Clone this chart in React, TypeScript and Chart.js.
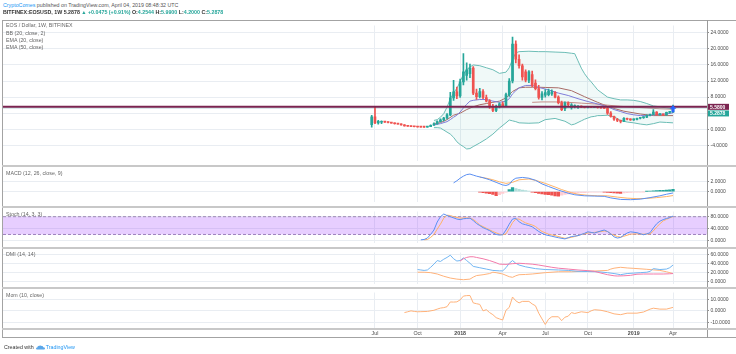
import React, { useEffect, useRef } from 'react';
import { Chart, registerables } from 'chart.js';

Chart.register(...registerables);

const FONT = "'Liberation Sans', Arial, sans-serif";
const GRID = '#e9edf2';
const AXIS_TEXT = '#4a4a4a';
const UP = '#26a69a';
const DOWN = '#ef5350';
const UP_LIGHT = '#b2dfdb';
const DOWN_LIGHT = '#ffcdd2';

const X_MIN = -112.58;
const X_MAX = 102.38;

// ---- time axis ----
const tickWeeks = [1, 14, 27, 40, 53, 66, 80, 92];
const tickLabels = ['Jul', 'Oct', '2018', 'Apr', 'Jul', 'Oct', '2019', 'Apr'];

// ---- weekly candles (week 0 = Jun 26 2017) ----
const candleOpen = [1.15, 3.1, 1.6, 1.75, 1.9, 1.78, 1.68, 1.55, 1.38, 1.3, 1.1, 0.85, 0.75, 0.66, 0.62, 0.57, 0.54, 0.52, 0.68, 1.0, 1.35, 1.9, 2.35, 2.8, 3.6, 7.8, 9.3, 8.3, 11.8, 13.4, 13.8, 15.2, 9.0, 8.1, 9.4, 7.9, 7.0, 5.6, 4.7, 5.6, 6.3, 5.9, 8.6, 12.0, 21.2, 17.4, 15.8, 14.3, 12.2, 13.6, 11.5, 10.1, 7.9, 8.5, 8.6, 8.8, 9.2, 8.0, 6.6, 5.1, 6.5, 5.4, 5.6, 5.5, 5.7, 5.5, 5.45, 5.55, 5.45, 5.5, 5.35, 5.3, 5.2, 4.0, 3.2, 2.5, 2.2, 1.95, 2.7, 2.5, 2.35, 2.45, 2.75, 2.9, 3.0, 3.5, 3.7, 4.3, 3.65, 3.7, 3.6, 4.2, 4.2544];
const candleHigh = [3.5, 5.7, 2.2, 2.1, 2.0, 1.85, 1.75, 1.6, 1.45, 1.35, 1.15, 0.9, 0.8, 0.7, 0.66, 0.6, 0.6, 0.72, 1.1, 1.6, 2.1, 2.6, 3.0, 3.9, 9.2, 12.2, 10.5, 12.5, 18.8, 16.5, 16.2, 15.6, 10.0, 10.2, 9.9, 8.5, 7.4, 6.2, 6.0, 6.6, 6.8, 9.0, 12.6, 22.9, 22.0, 18.5, 16.2, 14.8, 14.6, 14.5, 12.3, 10.9, 9.4, 9.9, 10.0, 9.8, 9.4, 8.3, 7.0, 6.8, 6.8, 6.4, 6.1, 5.9, 5.8, 5.6, 5.6, 5.65, 5.6, 5.6, 5.45, 5.4, 5.45, 4.4, 3.3, 2.7, 2.3, 2.9, 2.8, 2.6, 2.6, 2.8, 3.0, 3.1, 3.6, 3.8, 4.9, 4.4, 3.9, 3.8, 4.3, 4.3, 5.99];
const candleLow = [0.5, 1.4, 1.3, 1.4, 1.7, 1.6, 1.5, 1.3, 1.25, 1.05, 0.8, 0.7, 0.62, 0.58, 0.52, 0.5, 0.48, 0.5, 0.65, 0.95, 1.3, 1.8, 2.1, 2.6, 3.4, 7.2, 7.6, 7.9, 11.0, 12.2, 12.8, 8.6, 7.4, 7.8, 7.6, 6.8, 5.2, 4.4, 4.4, 5.3, 5.6, 5.6, 8.2, 11.5, 16.5, 15.2, 12.2, 11.8, 11.6, 10.6, 9.8, 7.5, 7.3, 8.0, 8.3, 8.4, 7.8, 6.3, 4.6, 4.6, 5.8, 5.0, 5.3, 5.2, 5.4, 5.3, 5.3, 5.4, 5.35, 5.25, 5.2, 5.1, 3.7, 3.0, 2.2, 1.9, 1.6, 1.9, 2.3, 2.2, 2.2, 2.35, 2.6, 2.7, 2.9, 3.3, 3.6, 3.5, 3.5, 3.4, 3.5, 4.0, 4.2];
const candleClose = [3.1, 1.6, 1.95, 1.9, 1.78, 1.68, 1.55, 1.38, 1.3, 1.1, 0.85, 0.75, 0.66, 0.62, 0.57, 0.54, 0.52, 0.68, 1.0, 1.35, 1.9, 2.35, 2.8, 3.6, 7.8, 9.3, 8.3, 11.8, 14.3, 14.8, 15.2, 9.0, 8.1, 9.4, 7.9, 7.0, 5.6, 4.7, 5.6, 6.3, 5.9, 8.6, 12.0, 21.2, 17.4, 15.8, 13.0, 12.2, 14.3, 10.9, 10.1, 7.9, 8.8, 9.1, 9.5, 9.3, 8.0, 6.6, 4.9, 6.5, 6.1, 6.1, 5.9, 5.7, 5.5, 5.45, 5.55, 5.45, 5.5, 5.35, 5.28, 5.2, 4.0, 3.2, 2.5, 2.2, 1.95, 2.7, 2.5, 2.35, 2.45, 2.75, 2.9, 3.0, 3.5, 3.7, 4.3, 3.65, 3.7, 3.6, 4.2, 4.25, 5.2878];

// ---- Bollinger Bands (20, 2) ----
const bbWeeks = [19, 20, 21, 22, 23, 24, 25, 26, 27, 28, 29, 30, 31, 33, 35, 37, 39, 41, 42, 43, 44, 45, 48, 51, 53, 56, 59, 61, 62, 63, 64, 65, 66, 67, 68, 69, 70, 72, 74, 76, 78, 80, 82, 84, 86, 88, 90, 92];
const bbUpper = [2.2, 2.4, 3.0, 3.9, 5.5, 7.6, 9.0, 10.2, 11.8, 13.7, 14.8, 15.5, 16.0, 15.8, 15.3, 14.8, 13.9, 14.2, 15.3, 17.4, 19.0, 19.3, 19.4, 19.3, 19.3, 19.2, 19.1, 18.9, 18.8, 17.0, 15.2, 13.8, 12.7, 11.8, 10.8, 9.8, 9.2, 8.0, 7.6, 7.3, 7.3, 7.2, 6.9, 6.4, 5.8, 5.6, 5.3, 5.0];
const bbLower = [0.4, 0.4, 0.3, -0.2, -0.7, -1.2, -2.0, -3.1, -3.8, -4.3, -4.9, -4.8, -4.3, -3.4, -2.4, -1.2, 0.3, 1.6, 2.3, 2.1, 1.9, 1.6, 1.5, 1.6, 2.4, 2.7, 2.0, 1.1, 1.3, 1.7, 2.1, 2.5, 2.8, 3.1, 3.2, 3.4, 3.4, 3.5, 3.1, 2.2, 1.8, 1.6, 1.3, 1.1, 1.4, 1.8, 1.7, 1.6];
const basisWeeks = [19, 21, 23, 25, 27, 29, 31, 33, 35, 37, 39, 41, 43, 45, 47, 49, 51, 53, 57, 61, 65, 69, 73, 77, 82, 86, 92];
const basisVals = [1.3, 1.65, 2.4, 3.5, 4.0, 4.9, 5.6, 6.1, 6.4, 6.7, 7.0, 7.8, 9.4, 10.3, 10.45, 10.45, 10.45, 10.4, 10.3, 9.6, 8.1, 6.7, 5.4, 4.5, 3.8, 3.4, 3.4];

// ---- EMAs ----
const ema20Weeks = [19, 21, 23, 24, 25, 26, 27, 28, 29, 30, 31, 33, 35, 37, 39, 41, 42, 43, 44, 45, 47, 49, 51, 54, 57, 60, 63, 66, 69, 72, 74, 76, 78, 80, 82, 84, 86, 88, 90, 92];
const ema20Vals = [1.1, 1.4, 1.9, 2.4, 3.0, 3.5, 4.3, 5.3, 6.2, 7.0, 7.2, 7.4, 7.4, 7.0, 6.7, 7.0, 7.6, 8.8, 9.6, 10.3, 10.9, 10.9, 10.4, 9.8, 9.0, 8.4, 7.6, 6.9, 6.3, 5.6, 4.9, 4.4, 3.9, 3.6, 3.4, 3.4, 3.6, 3.7, 3.8, 4.1];
const ema50Weeks = [49, 52, 56, 60, 64, 68, 72, 76, 80, 84, 88, 92];
const ema50Vals = [6.7, 6.8, 6.8, 6.7, 6.5, 6.3, 6.0, 5.7, 5.5, 5.3, 5.1, 5.0];

// ---- price markers ----
const hLevel = 5.58;
const lastWeek = 92;
const lastClose = 5.2878;
const arrowValue = 6.0;

// ---- MACD (12, 26, 9) ----
const macdWeeks = [25, 26, 27, 28, 29, 30, 31, 32, 34, 36, 38, 40, 41, 42, 43, 44, 46, 48, 50, 52, 54, 57, 60, 62, 65, 68, 71, 73, 76, 79, 82, 85, 88, 90, 92];
const macdVals = [1.7, 2.1, 2.6, 3.0, 3.3, 3.4, 3.2, 3.0, 2.7, 2.3, 1.8, 1.3, 1.2, 1.4, 2.2, 2.6, 2.75, 2.6, 2.2, 1.5, 1.0, 0.3, -0.3, -0.6, -0.8, -0.85, -0.9, -1.2, -1.5, -1.55, -1.45, -1.15, -0.8, -0.5, -0.25];
const signalWeeks = [33, 35, 37, 39, 41, 43, 45, 48, 50, 53, 56, 58, 61, 63, 66, 69, 72, 75, 78, 81, 84, 87, 90, 92];
const signalVals = [2.8, 2.6, 2.3, 1.9, 1.6, 1.8, 2.3, 2.45, 2.2, 1.6, 0.9, 0.4, -0.2, -0.5, -0.7, -0.8, -0.8, -1.05, -1.25, -1.35, -1.3, -1.15, -0.95, -0.75];
const histFirstWeek = 33;
const histVals = [-0.1, -0.2, -0.3, -0.4, -0.55, -0.75, -0.6, -0.35, -0.1, 0.4, 0.8, 0.6, 0.45, 0.3, 0.2, 0.1, -0.1, -0.2, -0.35, -0.45, -0.55, -0.6, -0.7, -0.8, -0.85, -0.7, -0.55, -0.45, -0.35, -0.3, -0.25, -0.2, -0.18, -0.15, -0.12, -0.1, -0.08, -0.07, -0.1, -0.15, -0.2, -0.25, -0.3, -0.32, -0.25, -0.2, -0.15, -0.12, -0.1, -0.08, -0.04, 0.05, 0.1, 0.15, 0.2, 0.25, 0.27, 0.3, 0.35, 0.45];

// ---- Stochastic (14, 3, 3) ----
const kWeeks = [15, 16, 17, 18, 19, 20, 21, 22, 23, 24, 26, 27, 28, 29, 30, 31, 32, 33, 34, 35, 36, 37, 38, 39, 40, 41, 42, 43, 44, 45, 46, 47, 48, 49, 50, 51, 52, 53, 55, 57, 59, 60, 61, 63, 65, 66, 67, 68, 70, 71, 72, 73, 74, 75, 76, 77, 78, 79, 81, 83, 84, 85, 86, 87, 88, 89, 90, 91, 92];
const kVals = [2, 3, 8, 20, 35, 62, 80, 89, 84, 80, 72, 70, 73, 74, 75, 67, 57, 50, 43, 38, 33, 26, 20, 18, 19, 35, 55, 72, 74, 63, 56, 53, 50, 46, 38, 30, 24, 19, 14, 9, 5, 9, 13, 16, 24, 29, 27, 25, 32, 35, 30, 22, 12, 8, 10, 18, 25, 29, 26, 19, 22, 26, 42, 56, 65, 70, 74, 77, 82];
const dWeeks = [16, 17, 18, 19, 20, 21, 22, 23, 24, 25, 27, 29, 30, 31, 32, 33, 35, 37, 39, 40, 41, 42, 43, 44, 45, 46, 47, 49, 50, 51, 52, 54, 56, 58, 59, 60, 62, 64, 66, 68, 70, 71, 72, 73, 75, 76, 77, 79, 81, 83, 85, 86, 87, 88, 89, 90, 91, 92];
const dVals = [2, 3, 10, 20, 38, 55, 75, 85, 84, 80, 75, 76, 75, 71, 62, 52, 41, 30, 21, 19, 22, 40, 60, 72, 72, 65, 59, 52, 47, 38, 30, 21, 16, 10, 7, 8, 13, 20, 25, 27, 30, 32, 30, 22, 13, 11, 14, 21, 22, 21, 22, 32, 45, 56, 66, 71, 76, 80];
const stochUpper = 80;
const stochLower = 20;

// ---- DMI (14, 14) ----
const plusWeeks = [14, 15, 16, 17, 18, 19, 20, 21, 22, 23, 24, 25, 26, 27, 28, 29, 30, 31, 33, 35, 37, 39, 40, 41, 42, 43, 44, 45, 47, 50, 53, 57, 60, 63, 66, 69, 72, 74, 76, 78, 80, 82, 84, 85, 86, 88, 90, 91, 92];
const plusVals = [26, 25, 24, 25, 31, 38, 46, 44, 49, 53, 58, 50, 45, 46, 52, 46, 40, 33, 30, 27, 24, 23, 23, 30, 40, 46, 40, 36, 32, 28, 26, 25, 24, 22, 21.5, 21, 19, 17, 14.5, 17, 18, 19, 20, 22, 28, 26, 27, 30, 36];
const minusWeeks = [14, 16, 18, 20, 22, 24, 26, 28, 30, 31, 32, 34, 36, 37, 38, 40, 42, 43, 44, 45, 47, 49, 53, 57, 61, 64, 68, 72, 73, 74, 76, 78, 80, 84, 88, 90, 92];
const minusVals = [20, 20, 19, 16, 11, 7, 4.6, 3.3, 4.6, 9, 12.5, 14.4, 17, 20, 19, 16, 10, 8.6, 12, 14.4, 15, 16, 19, 21, 21, 22, 22.6, 24, 27, 29, 31, 29.5, 28.6, 26.5, 24, 21, 17];
const adxWeeks = [27, 28, 29, 30, 31, 32, 34, 36, 38, 39, 41, 43, 45, 47, 49, 51, 53, 55, 57, 60, 63, 66, 68, 70, 72, 74, 75, 77, 79, 81, 83, 86, 89, 91, 92];
const adxVals = [45, 50, 53, 54.5, 54.5, 53, 50, 46, 41, 38, 37.5, 39, 40, 39, 38, 36, 33.5, 31, 29, 27, 25, 23.5, 22, 18, 14.5, 12, 11.5, 12, 13, 15.5, 16, 16, 16, 16.5, 17];

// ---- Momentum (10) ----
const momWeeks = [10, 11, 12, 13, 14, 15, 17, 19, 20, 21, 22, 23, 24, 25, 26, 27, 28, 29, 30, 31, 32, 33, 34, 35, 36, 37, 38, 39, 40, 41, 42, 43, 44, 45, 46, 48, 49, 50, 51, 52, 53, 54, 55, 57, 58, 59, 60, 61, 62, 64, 66, 67, 68, 70, 72, 74, 76, 78, 81, 83, 85, 86, 88, 90, 92];
const momVals = [-1.5, -0.8, 0, -0.5, -0.8, -0.7, -0.5, 0.5, 1.5, 2.4, 2.8, 3.6, 7.7, 7.6, 7.8, 9.5, 12.8, 13.2, 13.3, 6.9, 6.2, 5.6, 0, 1, -1.5, -3.3, -5.9, -7, -7.9, 0.5, 3, 12, 8.7, 6.9, 8.2, 8.2, 6, 4.4, -2, -7, -11.8, -7.2, -5.1, -5.1, -8.5, -5.5, -4.6, -1.5, -2.3, -0.8, -1.5, 0, 1, 0.5, -0.8, -2.6, -3.3, -2, -2, -1, 1.5, 2.3, 1.5, 1.5, 3];

// ---------------------------------------------------------------------------

const candleColors = candleClose.map((c, i) => (c >= candleOpen[i] ? UP : DOWN));
const histColors = histVals.map((v, i) => {
  const prev = i > 0 ? histVals[i - 1] : 0;
  if (v >= 0) return v >= prev ? UP : UP_LIGHT;
  return v <= prev ? DOWN : DOWN_LIGHT;
});

const pts = (weeks: number[], vals: number[]) => weeks.map((w, i) => ({ x: w, y: vals[i] }));
const flat = (v: number) => [{ x: X_MIN, y: v }, { x: X_MAX, y: v }];

const line = (data: any[], color: string, extra: any = {}) => ({
  type: 'line',
  data,
  borderColor: color,
  borderWidth: 1,
  pointRadius: 0,
  fill: false,
  tension: 0,
  ...extra,
});

function xScale(showLabels: boolean) {
  return {
    type: 'linear',
    min: X_MIN,
    max: X_MAX,
    offset: false,
    afterBuildTicks: (s: any) => {
      s.ticks = tickWeeks.map((v) => ({ value: v }));
    },
    afterFit: (s: any) => {
      s.height = showLabels ? 10 : 0;
    },
    grid: { color: GRID, lineWidth: 1, drawTicks: false, offset: false },
    border: { display: false },
    ticks: {
      display: showLabels,
      autoSkip: false,
      maxRotation: 0,
      minRotation: 0,
      padding: 2.5,
      color: AXIS_TEXT,
      font: (c: any) => ({
        family: FONT,
        size: 5.3,
        weight: /^\d{4}$/.test(tickLabels[c.index] || '') ? 'bold' : 'normal',
      }),
      callback: (_v: any, i: number) => tickLabels[i],
    },
  };
}

function yScale(min: number, max: number, ticks: number[]) {
  return {
    type: 'linear',
    position: 'right',
    min,
    max,
    afterBuildTicks: (s: any) => {
      s.ticks = ticks.map((v) => ({ value: v }));
    },
    afterFit: (s: any) => {
      s.width = 29;
    },
    grid: { color: GRID, lineWidth: 1, drawTicks: true, tickLength: 2, tickColor: '#8d8d8d' },
    border: { display: false },
    ticks: {
      autoSkip: false,
      color: AXIS_TEXT,
      padding: 1.5,
      font: { family: FONT, size: 5 },
      callback: (v: any) => Number(v).toFixed(4),
    },
  };
}

function baseOptions(scales: any) {
  return {
    responsive: false,
    maintainAspectRatio: false,
    animation: false,
    devicePixelRatio: 1,
    events: [],
    layout: { padding: 0, autoPadding: false },
    plugins: { legend: { display: false }, tooltip: { enabled: false } },
    scales,
  };
}

const priceLabelPlugin = {
  id: 'priceLabels',
  afterDraw(chart: any) {
    const { ctx, chartArea } = chart;
    const y = chart.scales.y;
    const x0 = chartArea.right;
    const w = 22;
    const h = 6;
    const y1 = y.getPixelForValue(hLevel);
    const y2 = Math.max(y.getPixelForValue(lastClose), y1 + h + 0.6);
    const box = (cy: number, bg: string, text: string) => {
      ctx.save();
      ctx.fillStyle = bg;
      ctx.fillRect(x0, cy - h / 2, w, h);
      ctx.fillStyle = '#ffffff';
      ctx.font = `bold 5px ${FONT}`;
      ctx.textBaseline = 'middle';
      ctx.textAlign = 'left';
      ctx.fillText(text, x0 + 3, cy + 0.3);
      ctx.restore();
    };
    box(y1, '#7b2450', hLevel.toFixed(4));
    box(y2, UP, lastClose.toFixed(4));
  },
};

const arrowPlugin = {
  id: 'arrow',
  afterDatasetsDraw(chart: any) {
    const { ctx } = chart;
    const px = chart.scales.x.getPixelForValue(lastWeek);
    const top = chart.scales.y.getPixelForValue(arrowValue);
    ctx.save();
    ctx.fillStyle = '#2962ff';
    ctx.beginPath();
    ctx.moveTo(px, top);
    ctx.lineTo(px + 3.4, top + 3.6);
    ctx.lineTo(px + 1.4, top + 3.6);
    ctx.lineTo(px + 1.4, top + 7);
    ctx.lineTo(px - 1.4, top + 7);
    ctx.lineTo(px - 1.4, top + 3.6);
    ctx.lineTo(px - 3.4, top + 3.6);
    ctx.closePath();
    ctx.fill();
    ctx.restore();
  },
};

function mainConfig(): any {
  return {
    type: 'bar',
    data: {
      datasets: [
        line(flat(hLevel), '#7b2450', { borderWidth: 2, order: -3 }),
        {
          type: 'bar',
          data: candleOpen.map((o, i) => ({ x: i, y: [o, candleClose[i]] })),
          backgroundColor: candleColors,
          barThickness: 2,
          grouped: false,
          minBarLength: 1,
          borderWidth: 0,
          order: -2,
        },
        {
          type: 'bar',
          data: candleLow.map((l, i) => ({ x: i, y: [l, candleHigh[i]] })),
          backgroundColor: candleColors,
          barThickness: 1,
          grouped: false,
          borderWidth: 0,
          order: -1,
        },
        line(pts(ema20Weeks, ema20Vals), '#7f7cd9', { order: 1 }),
        line(pts(ema50Weeks, ema50Vals), '#c48c88', { order: 2 }),
        line(pts(basisWeeks, basisVals), '#a86b66', { order: 3 }),
        line(pts(bbWeeks, bbUpper), '#6dbdb6', { order: 4, fill: '+1', backgroundColor: 'rgba(38,166,154,0.07)' }),
        line(pts(bbWeeks, bbLower), '#6dbdb6', { order: 5 }),
        line(flat(lastClose), 'rgba(120,170,180,0.55)', { order: 0 }),
      ],
    },
    options: baseOptions({ x: xScale(false), y: yScale(-7.76, 25.8, [-4, 0, 4, 8, 12, 16, 20, 24]) }),
    plugins: [arrowPlugin, priceLabelPlugin],
  };
}

function macdConfig(): any {
  return {
    type: 'bar',
    data: {
      datasets: [
        line(pts(macdWeeks, macdVals), '#5a8ff2', { order: 0 }),
        line(pts(signalWeeks, signalVals), '#ffb366', { order: 1 }),
        {
          type: 'bar',
          data: histVals.map((v, i) => ({ x: histFirstWeek + i, y: v })),
          backgroundColor: histColors,
          barThickness: 2.6,
          grouped: false,
          borderWidth: 0,
          order: 2,
        },
      ],
    },
    options: baseOptions({ x: xScale(false), y: yScale(-1.9, 4.09, [0, 2]) }),
  };
}

function stochConfig(): any {
  return {
    type: 'line',
    data: {
      datasets: [
        line(pts(kWeeks, kVals), '#5a8ff2', { order: 0 }),
        line(pts(dWeeks, dVals), '#ffb366', { order: 1 }),
        line(flat(stochUpper), '#9d8bb5', { order: 2, borderDash: [3, 2], fill: '+1', backgroundColor: 'rgba(153,51,255,0.24)' }),
        line(flat(stochLower), '#9d8bb5', { order: 3, borderDash: [3, 2] }),
      ],
    },
    options: baseOptions({ x: xScale(false), y: yScale(-7.1, 97.5, [0, 40, 80]) }),
  };
}

function dmiConfig(): any {
  return {
    type: 'line',
    data: {
      datasets: [
        line(pts(plusWeeks, plusVals), '#72b6f2', { order: 1 }),
        line(pts(minusWeeks, minusVals), '#ffb27a', { order: 2 }),
        line(pts(adxWeeks, adxVals), '#f37aa9', { order: 0 }),
      ],
    },
    options: baseOptions({ x: xScale(false), y: yScale(-5.2, 64.0, [0, 20, 40, 60]) }),
  };
}

function momConfig(): any {
  return {
    type: 'line',
    data: { datasets: [line(pts(momWeeks, momVals), '#ffb27a')] },
    options: baseOptions({ x: xScale(true), y: yScale(-14.85, 15.9, [-10, 0, 10]) }),
  };
}

function Pane({ top, height, config }: { top: number; height: number; config: () => any }) {
  const ref = useRef<HTMLCanvasElement | null>(null);
  useEffect(() => {
    if (!ref.current) return;
    const chart = new Chart(ref.current, config());
    return () => chart.destroy();
  }, []);
  return (
    <canvas
      ref={ref}
      width={733}
      height={height}
      style={{ position: 'absolute', left: 3, top, width: 733, height, display: 'block' }}
    />
  );
}

const txt = (left: number, top: number, extra: any = {}): any => ({
  position: 'absolute',
  left,
  top,
  fontSize: 5.3,
  lineHeight: '6px',
  whiteSpace: 'nowrap',
  color: '#666',
  ...extra,
});

export default function App() {
  const seps = [165, 206, 246.5, 286.5, 328];
  const g = { color: UP };
  return (
    <div
      style={{
        position: 'absolute',
        left: 0,
        top: 0,
        width: 736,
        height: 354,
        background: '#ffffff',
        overflow: 'hidden',
        fontFamily: FONT,
      }}
    >
      <Pane top={21} height={144} config={mainConfig} />
      <Pane top={166} height={40} config={macdConfig} />
      <Pane top={207} height={40} config={stochConfig} />
      <Pane top={248} height={40} config={dmiConfig} />
      <Pane top={288} height={50} config={momConfig} />

      {/* frame */}
      <div style={{ position: 'absolute', left: 2, top: 20, width: 740, height: 318, border: '1px solid #a3a3a3', boxSizing: 'border-box' }} />
      <div style={{ position: 'absolute', left: 707, top: 20, width: 1, height: 318, background: '#9a9a9a' }} />
      {seps.map((y) => (
        <div key={y} style={{ position: 'absolute', left: 2, top: y, width: 734, height: 2, background: '#c8c8c8' }} />
      ))}

      {/* header */}
      <div style={txt(3, 2, { color: '#555' })}>
        <span style={{ color: '#2196f3' }}>CryptoComes</span> published on TradingView.com, April 04, 2019 08:48:32 UTC
      </div>
      <div style={txt(3, 9, { color: '#333', fontWeight: 700 })}>
        BITFINEX:EOSUSD, 1W <span style={{ color: '#333' }}>5.2878</span>{' '}
        <span style={g}>▲ +0.0475 (+0.91%)</span> O:<span style={g}>4.2544</span> H:<span style={g}>5.9900</span> L:
        <span style={g}>4.2000</span> C:<span style={g}>5.2878</span>
      </div>

      {/* pane legends */}
      <div style={txt(6, 22)}>EOS / Dollar, 1W, BITFINEX</div>
      <div style={txt(6, 29.5)}>BB (20, close, 2)</div>
      <div style={txt(6, 37)}>EMA (20, close)</div>
      <div style={txt(6, 44)}>EMA (50, close)</div>
      <div style={txt(6, 170)}>MACD (12, 26, close, 9)</div>
      <div style={txt(6, 210.5)}>Stoch (14, 3, 3)</div>
      <div style={txt(6, 251)}>DMI (14, 14)</div>
      <div style={txt(6, 292)}>Mom (10, close)</div>

      {/* footer */}
      <div style={txt(4, 344, { color: '#333', display: 'flex', alignItems: 'center' })}>
        <span>Created with</span>
        <svg width="9" height="5" viewBox="0 0 18 10" style={{ margin: '0 1px 0 2px' }}>
          <path d="M2 9 Q0 9 0 7 Q0 5 2.5 5 Q3 1 7 1.5 Q9 0 11.5 2 Q14 1.5 14.5 4.5 Q18 4.5 18 7 Q18 9 16 9 Z" fill="#5aa7ea" />
        </svg>
        <span style={{ color: '#2196f3' }}>TradingView</span>
      </div>
    </div>
  );
}
